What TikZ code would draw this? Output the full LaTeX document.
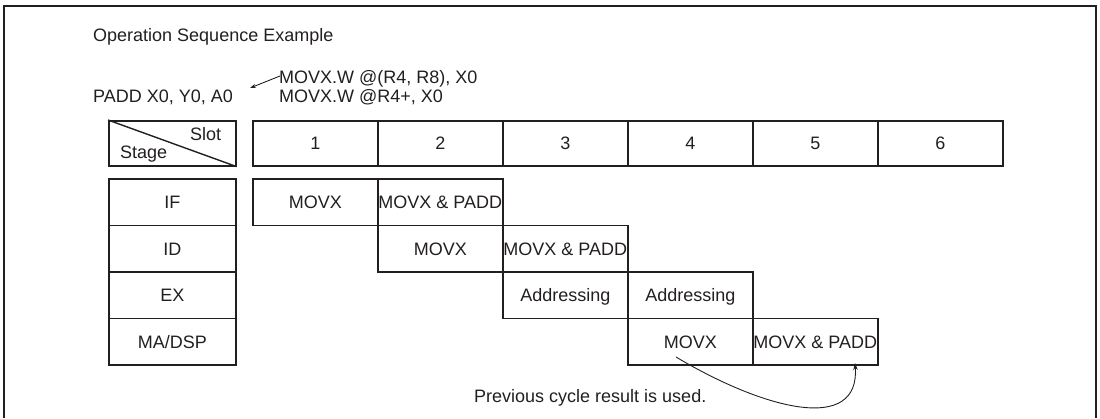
\documentclass[tikz,border=0pt]{standalone}
\usepackage{fontspec}
\setmainfont{Liberation Sans}
\usetikzlibrary{arrows.meta}
\definecolor{ink}{HTML}{231F20}
\begin{document}
\begin{tikzpicture}[x=1pt,y=-1pt,
  font=\fontsize{18}{21}\selectfont, color=ink,
  cell/.style={draw=ink, line width=1.6pt, minimum width=125pt, minimum height=46.5pt,
    inner sep=0pt, text height=12.9pt, text depth=0pt, anchor=north west},
  hcell/.style={cell, minimum height=45pt},
  scell/.style={cell, minimum width=127pt},
  txt/.style={inner sep=0pt, anchor=base west},
  conn/.style={draw=ink, line width=0.9pt, -{Stealth[length=7pt,width=4.5pt]}}]
\useasboundingbox (0,0) rectangle (1100,418);
% outer frame (open at the bottom)
\draw[line width=2pt] (4,418) -- (4,6) -- (1096,6) -- (1096,418);
% titles
\node[txt] (title) at (93,41) {Operation Sequence Example};
\node[txt] (mov1) at (279,83) {MOVX.W @(R4, R8), X0};
\node[txt] (mov2) at (279,102) {MOVX.W @R4+, X0};
\node[txt] (padd) at (93,102) {PADD X0, Y0, A0};
\coordinate (a1) at (280,76);
\coordinate (a2) at (250,88);
\draw[conn, -{Stealth[length=6pt,width=4pt]}] (a1) -- (a2);
% header
\node[hcell, minimum width=127pt] (hdr) at (108,120) {};
\draw[line width=1.4pt] (hdr.north west) -- (hdr.south east);
\node[txt] (slot) at (190,140) {Slot};
\node[txt] (stage) at (120,158) {Stage};
\foreach \i in {1,...,6}
  \node[hcell] (s\i) at ({252+125*(\i-1)},120) {\i};
% stage column
\node[scell] (if) at (108,178) {IF};
\node[scell] (id) at (108,224.5) {ID};
\node[scell] (ex) at (108,271) {EX};
\node[scell] (ma) at (108,317.5) {MA/DSP};
% pipeline cells
\node[cell] (if1) at (252,178) {MOVX};
\node[cell] (if2) at (377,178) {MOVX \& PADD};
\node[cell] (id2) at (377,224.5) {MOVX};
\node[cell] (id3) at (502,224.5) {MOVX \& PADD};
\node[cell] (ex3) at (502,271) {Addressing};
\node[cell] (ex4) at (627,271) {Addressing};
\node[cell] (ma4) at (627,317.5) {MOVX};
\node[cell] (ma5) at (752,317.5) {MOVX \& PADD};
% forwarding
\node[txt] (note) at (474,402) {Previous cycle result is used.};
\coordinate (cs) at (676,357);
\coordinate (ce) at (855,363);
\draw[conn] (cs) .. controls (765,410) and (860,434) .. (ce);
\end{tikzpicture}
\end{document}
